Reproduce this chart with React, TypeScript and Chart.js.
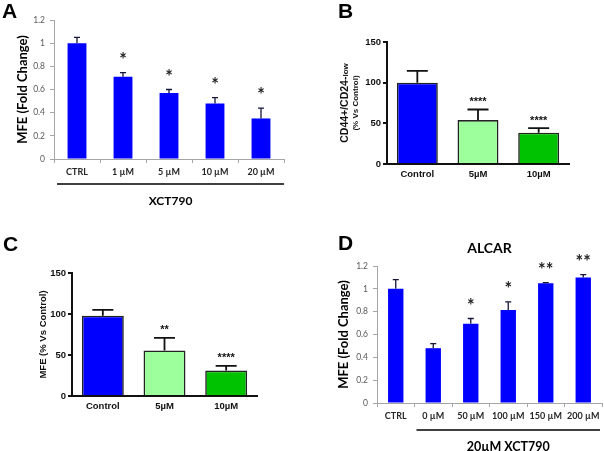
import React, { useEffect, useRef } from "react";
import { Chart, registerables } from "chart.js";

Chart.register(...registerables);

// ---------- Panel A data ----------
const aCategories = ["CTRL", "1 µM", "5 µM", "10 µM", "20 µM"];
const aValues = [1.0, 0.71, 0.57, 0.48, 0.35];
const aErrors = [0.05, 0.035, 0.03, 0.05, 0.09];
const aStars = ["", "*", "*", "*", "*"];
const aYTicks = [0, 0.2, 0.4, 0.6, 0.8, 1, 1.2];

// ---------- Panel B data ----------
const bCategories = ["Control", "5µM", "10µM"];
const bValues = [100, 54, 38.5];
const bErrors = [14.5, 13, 5.5];
const bStars = ["", "****", "****"];
const bYTicks = [0, 50, 100, 150];

// ---------- Panel C data ----------
const cCategories = ["Control", "5µM", "10µM"];
const cValues = [98, 55.5, 31];
const cErrors = [7, 15.5, 5.7];
const cStars = ["", "**", "****"];
const cYTicks = [0, 50, 100, 150];

// ---------- Panel D data ----------
const dCategories = ["CTRL", "0 µM", "50 µM", "100 µM", "150 µM", "200 µM"];
const dValues = [1.0, 0.48, 0.695, 0.815, 1.05, 1.1];
const dErrors = [0.08, 0.04, 0.045, 0.07, 0.005, 0.025];
const dStars = ["", "", "*", "*", "**", "**"];
const dYTicks = [0, 0.2, 0.4, 0.6, 0.8, 1, 1.2];

const aGroupLabel = "XCT790";
const dGroupLabel = "20µM XCT790";
const dTitle = "ALCAR";
const excelYTitle = "MFE (Fold Change)";
const bYTitleMain = "CD44+/CD24-";
const bYTitleSmall = "low";
const bYTitleSub = "(% Vs Control)";
const cYTitle = "MFE (% Vs Control)";

const EXCEL_FONT = "Lato, 'Open Sans', sans-serif";
const PRISM_FONT = "'Liberation Sans', Arial, sans-serif";
const LETTER_FONT = "bold 21px 'Liberation Sans', Arial, sans-serif";

type Box = { left: number; top: number; width: number; height: number };
type Area = { left: number; top: number; right: number; bottom: number };

type PanelSpec = {
  letter: string;
  letterPos: [number, number];
  box: Box;
  area: Area;
  categories: string[];
  values: number[];
  errors: number[];
  stars: string[];
  yTicks: number[];
  style: "excel" | "prism";
  barColors: string[];
  barPct: number;
  drawYTitle: (ctx: CanvasRenderingContext2D, area: any) => void;
  extra?: (chart: any) => void;
};

function rotatedText(
  ctx: CanvasRenderingContext2D,
  cx: number,
  cy: number,
  parts: { text: string; font: string }[],
  color: string
) {
  ctx.save();
  ctx.translate(cx, cy);
  ctx.rotate(-Math.PI / 2);
  ctx.fillStyle = color;
  ctx.textBaseline = "middle";
  ctx.textAlign = "left";
  let total = 0;
  const widths = parts.map((p) => {
    ctx.font = p.font;
    const w = ctx.measureText(p.text).width;
    total += w;
    return w;
  });
  let x = -total / 2;
  parts.forEach((p, i) => {
    ctx.font = p.font;
    ctx.fillText(p.text, x, 0);
    x += widths[i];
  });
  ctx.restore();
}

function drawExcelYTitle(ctx: CanvasRenderingContext2D, area: any, offset: number) {
  rotatedText(
    ctx,
    area.left - offset,
    (area.top + area.bottom) / 2,
    [{ text: excelYTitle, font: `bold 13px ${EXCEL_FONT}` }],
    "#000"
  );
}

function makePlugin(s: PanelSpec) {
  const excel = s.style === "excel";
  return {
    id: "decor" + s.letter,
    afterDatasetsDraw(chart: any) {
      const ctx: CanvasRenderingContext2D = chart.ctx;
      const meta = chart.getDatasetMeta(0);
      const y = chart.scales.y;
      ctx.save();
      ctx.strokeStyle = excel ? "#16163a" : "#111";
      ctx.lineWidth = excel ? 1.3 : 1.8;
      const capHalf = excel ? 3 : 10.5;
      s.values.forEach((v, i) => {
        const bar = meta.data[i];
        const x = bar.x;
        const y0 = y.getPixelForValue(v);
        const y1 = y.getPixelForValue(v + s.errors[i]);
        ctx.beginPath();
        ctx.moveTo(x, y0);
        ctx.lineTo(x, y1);
        ctx.moveTo(x - capHalf, y1);
        ctx.lineTo(x + capHalf, y1);
        ctx.stroke();
        if (s.stars[i]) {
          ctx.fillStyle = excel ? "#222" : "#111";
          ctx.font = excel ? `bold 18px ${EXCEL_FONT}` : `bold 11px ${PRISM_FONT}`;
          ctx.textAlign = "center";
          ctx.textBaseline = "alphabetic";
          ctx.fillText(s.stars[i], x, y1 - (excel ? 7 : 4.5));
        }
      });
      ctx.restore();
    },
    afterDraw(chart: any) {
      const ctx: CanvasRenderingContext2D = chart.ctx;
      const area = chart.chartArea;
      ctx.save();
      ctx.fillStyle = "#000";
      ctx.font = LETTER_FONT;
      ctx.textAlign = "left";
      ctx.textBaseline = "alphabetic";
      ctx.fillText(s.letter, s.letterPos[0], s.letterPos[1]);
      s.drawYTitle(ctx, area);
      if (s.extra) s.extra(chart);
      ctx.restore();
    },
  };
}

function buildConfig(s: PanelSpec): any {
  const excel = s.style === "excel";
  const yW = 30;
  const xH = 22;
  const padding = {
    left: s.area.left - yW,
    top: s.area.top,
    right: s.box.width - s.area.right,
    bottom: s.box.height - s.area.bottom - xH,
  };
  const axisColor = excel ? "#a6a6a6" : "#111";
  const axisWidth = excel ? 1 : 2;
  return {
    type: "bar",
    data: {
      labels: s.categories,
      datasets: [
        {
          data: s.values,
          backgroundColor: s.barColors,
          borderColor: excel ? s.barColors : "#222",
          borderWidth: excel ? 0 : 1.6,
          borderSkipped: "bottom",
          categoryPercentage: 1,
          barPercentage: s.barPct,
        },
      ],
    },
    options: {
      responsive: false,
      animation: false,
      devicePixelRatio: 1,
      layout: { padding },
      plugins: { legend: { display: false }, tooltip: { enabled: false }, title: { display: false } },
      scales: {
        x: {
          type: "category",
          offset: true,
          grid: {
            display: true,
            drawOnChartArea: false,
            drawTicks: excel,
            tickLength: 4,
            color: axisColor,
            lineWidth: axisWidth,
            offset: true,
          },
          border: { display: true, color: axisColor, width: axisWidth },
          ticks: {
            autoSkip: false,
            maxRotation: 0,
            padding: excel ? 4 : 5,
            color: excel ? "#262626" : "#111",
            font: excel
              ? { family: EXCEL_FONT, size: 9, weight: "bold" }
              : { family: PRISM_FONT, size: 9.5, weight: "bold" },
          },
          afterFit: (sc: any) => {
            sc.height = xH;
          },
        },
        y: {
          min: 0,
          max: s.yTicks[s.yTicks.length - 1],
          afterBuildTicks: (sc: any) => {
            sc.ticks = s.yTicks.map((v) => ({ value: v }));
          },
          grid: {
            display: true,
            drawOnChartArea: false,
            drawTicks: true,
            tickLength: 4,
            color: axisColor,
            lineWidth: axisWidth,
          },
          border: { display: true, color: axisColor, width: axisWidth },
          ticks: {
            padding: excel ? 5 : 2,
            color: excel ? "#595959" : "#111",
            font: excel
              ? { family: EXCEL_FONT, size: 8.5 }
              : { family: PRISM_FONT, size: 9.5, weight: "bold" },
            callback: (v: any) => String(v),
          },
          afterFit: (sc: any) => {
            sc.width = yW;
          },
        },
      },
    },
    plugins: [makePlugin(s)],
  };
}

const EXCEL_BLUE = "#0000ff";
const PRISM_COLORS = ["#0000ff", "#9cff9c", "#00c200"];

const specA: PanelSpec = {
  letter: "A",
  letterPos: [2, 18],
  box: { left: 0, top: 0, width: 300, height: 220 },
  area: { left: 54, top: 20, right: 284, bottom: 159 },
  categories: aCategories,
  values: aValues,
  errors: aErrors,
  stars: aStars,
  yTicks: aYTicks,
  style: "excel",
  barColors: aValues.map(() => EXCEL_BLUE),
  barPct: 0.41,
  drawYTitle: (ctx, area) => drawExcelYTitle(ctx, area, 31),
  extra: (chart) => {
    const ctx: CanvasRenderingContext2D = chart.ctx;
    const area = chart.chartArea;
    const x1 = area.left + 3;
    const x2 = area.right;
    const yl = area.bottom + 25;
    ctx.strokeStyle = "#000";
    ctx.lineWidth = 1.5;
    ctx.beginPath();
    ctx.moveTo(x1, yl);
    ctx.lineTo(x2, yl);
    ctx.stroke();
    ctx.fillStyle = "#000";
    ctx.font = `bold 12px ${EXCEL_FONT}`;
    ctx.textAlign = "center";
    ctx.textBaseline = "middle";
    ctx.fillText(aGroupLabel, (x1 + x2) / 2, yl + 17);
  },
};

const specB: PanelSpec = {
  letter: "B",
  letterPos: [38, 18],
  box: { left: 300, top: 0, width: 304, height: 220 },
  area: { left: 87, top: 42, right: 269, bottom: 164 },
  categories: bCategories,
  values: bValues,
  errors: bErrors,
  stars: bStars,
  yTicks: bYTicks,
  style: "prism",
  barColors: PRISM_COLORS,
  barPct: 0.675,
  drawYTitle: (ctx, area) => {
    const cy = (area.top + area.bottom) / 2;
    rotatedText(
      ctx,
      area.left - 41.5,
      cy,
      [
        { text: bYTitleMain, font: `bold 10.5px ${PRISM_FONT}` },
        { text: bYTitleSmall, font: `bold 8px ${PRISM_FONT}` },
      ],
      "#111"
    );
    rotatedText(ctx, area.left - 31, cy, [{ text: bYTitleSub, font: `bold 8px ${PRISM_FONT}` }], "#111");
  },
};

const specC: PanelSpec = {
  letter: "C",
  letterPos: [3, 31],
  box: { left: 0, top: 220, width: 300, height: 231 },
  area: { left: 72, top: 53, right: 257, bottom: 176 },
  categories: cCategories,
  values: cValues,
  errors: cErrors,
  stars: cStars,
  yTicks: cYTicks,
  style: "prism",
  barColors: PRISM_COLORS,
  barPct: 0.68,
  drawYTitle: (ctx, area) => {
    rotatedText(
      ctx,
      area.left - 28.5,
      (area.top + area.bottom) / 2,
      [{ text: cYTitle, font: `bold 9.5px ${PRISM_FONT}` }],
      "#111"
    );
  },
};

const specD: PanelSpec = {
  letter: "D",
  letterPos: [38, 30],
  box: { left: 300, top: 220, width: 304, height: 231 },
  area: { left: 77, top: 46, right: 302, bottom: 183 },
  categories: dCategories,
  values: dValues,
  errors: dErrors,
  stars: dStars,
  yTicks: dYTicks,
  style: "excel",
  barColors: dValues.map(() => EXCEL_BLUE),
  barPct: 0.41,
  drawYTitle: (ctx, area) => drawExcelYTitle(ctx, area, 33.5),
  extra: (chart) => {
    const ctx: CanvasRenderingContext2D = chart.ctx;
    const area = chart.chartArea;
    const xs = chart.scales.x;
    const x1 = xs.getPixelForValue(0.5) + 2;
    const x2 = area.right - 2;
    const yl = area.bottom + 27;
    ctx.strokeStyle = "#000";
    ctx.lineWidth = 1.5;
    ctx.beginPath();
    ctx.moveTo(x1, yl);
    ctx.lineTo(x2, yl);
    ctx.stroke();
    ctx.fillStyle = "#000";
    ctx.font = `bold 12.5px ${EXCEL_FONT}`;
    ctx.textAlign = "center";
    ctx.textBaseline = "middle";
    ctx.fillText(dGroupLabel, (x1 + x2) / 2, yl + 17);
    ctx.font = `bold 14px ${EXCEL_FONT}`;
    ctx.fillText(dTitle, (area.left + area.right) / 2, area.top - 18);
  },
};

function Panel({ spec }: { spec: PanelSpec }) {
  const ref = useRef<HTMLCanvasElement | null>(null);
  useEffect(() => {
    if (!ref.current) return;
    const chart = new Chart(ref.current, buildConfig(spec));
    return () => chart.destroy();
  }, [spec]);
  return (
    <canvas
      ref={ref}
      width={spec.box.width}
      height={spec.box.height}
      style={{
        position: "absolute",
        left: spec.box.left,
        top: spec.box.top,
        width: spec.box.width,
        height: spec.box.height,
      }}
    />
  );
}

export default function App() {
  return (
    <div
      style={{
        position: "absolute",
        left: 0,
        top: 0,
        width: 604,
        height: 451,
        background: "#fff",
        overflow: "hidden",
      }}
    >
      <Panel spec={specA} />
      <Panel spec={specB} />
      <Panel spec={specC} />
      <Panel spec={specD} />
    </div>
  );
}
